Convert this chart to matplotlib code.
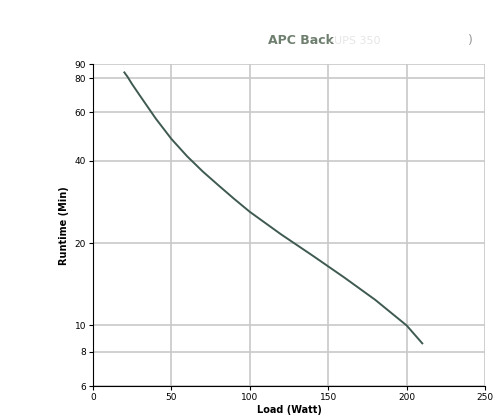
import numpy as np
import matplotlib.pyplot as plt
from matplotlib.ticker import FixedLocator, NullLocator

load = [20, 22, 25, 30, 40, 50, 60, 70, 80, 90, 100, 120, 140, 160, 180, 200, 210]
runtime = [84, 81, 76, 69, 57, 48, 41.5, 36.5, 32.5, 29, 26, 21.5, 18, 15, 12.4, 10, 8.6]
yticks = [6, 8, 10, 20, 40, 60, 80, 90]
xticks = [0, 50, 100, 150, 200, 250]

fig = plt.figure(figsize=(5, 4.17), dpi=100)
ax = fig.add_axes([0.186, 0.074, 0.784, 0.772])
ax.plot(load, runtime, color="#3f5a52", lw=1.4)
ax.set_yscale("log")
ax.set_ylim(6, 90)
ax.set_xlim(0, 250)
ax.yaxis.set_major_locator(FixedLocator(yticks))
ax.yaxis.set_minor_locator(NullLocator())
ax.set_yticklabels([str(t) for t in yticks])
ax.set_xticks(xticks)
ax.tick_params(labelsize=6.5, length=3, pad=2)
ax.grid(True, color="#c8c8c8", lw=1.2)
for s in ["top", "right"]:
    ax.spines[s].set_visible(False)
ax.set_xlabel("Load (Watt)", fontsize=7, fontweight="bold", labelpad=2)
ax.set_ylabel("Runtime (Min)", fontsize=7, fontweight="bold")
fig.text(0.535, 0.895, "APC Back", fontsize=9, fontweight="bold", color="#6f7f6f")
fig.text(0.66, 0.895, "-UPS 350", fontsize=8, color="#e6e6e6")
fig.text(0.935, 0.895, ")", fontsize=9, color="#999999")
fig.savefig("out.png")
